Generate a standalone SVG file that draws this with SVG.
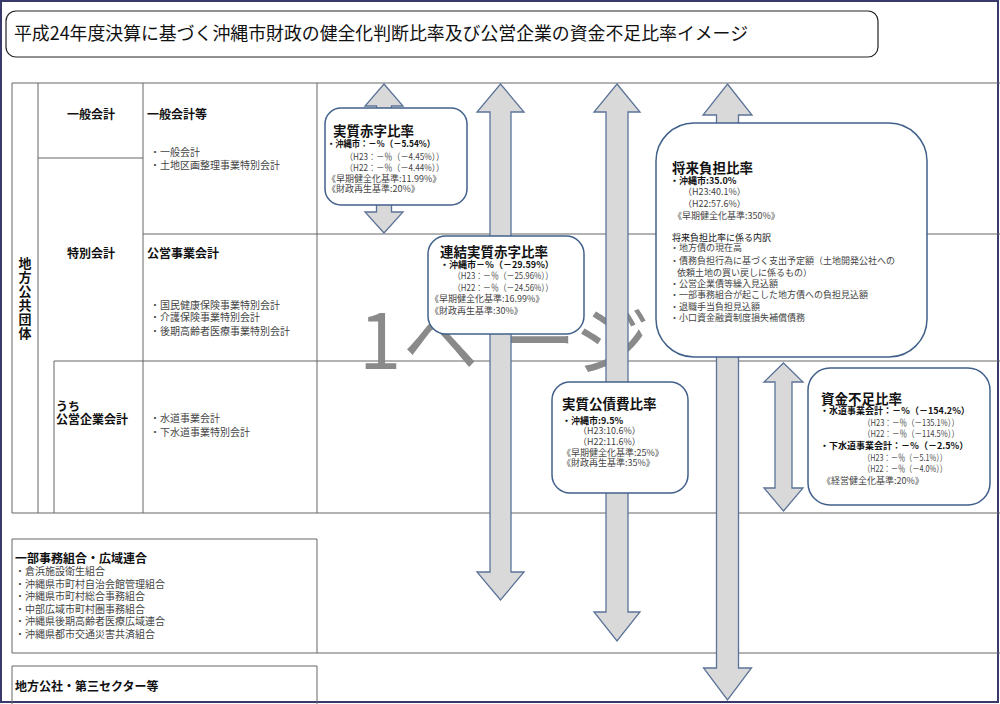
<svg xmlns="http://www.w3.org/2000/svg" width="1000" height="704" viewBox="0 0 1000 704">
<defs>
<style>
text{font-family:"Noto Sans CJK JP","Liberation Sans",sans-serif;}
.tl{stroke:#666;stroke-width:1;fill:none}
.hd{font-size:12px;font-weight:bold;fill:#111}
.li{font-size:10px;fill:#444}
.bx{fill:#fff;stroke:#41608a;stroke-width:1.5}
.ar{fill:#d9d9d9;stroke:#5b7398;stroke-width:1.3}
.bt{font-size:13.5px;font-weight:bold;fill:#111}
.bb{font-size:9px;font-weight:bold;fill:#111}
.bs{font-size:9px;fill:#444}
</style>
</defs>
<rect x="0" y="0" width="1000" height="704" fill="#fff"/>
<rect x="1" y="1" width="997" height="701" fill="none" stroke="#3a3a6a" stroke-width="2"/>

<g id="title">
<rect x="6" y="11" width="872" height="46" rx="10" fill="#fff" stroke="#222" stroke-width="1.2"/>
<text x="14" y="40" textLength="734" lengthAdjust="spacingAndGlyphs" style="font-size:18px;fill:#111">平成24年度決算に基づく沖縄市財政の健全化判断比率及び公営企業の資金不足比率イメージ</text>
</g>

<g id="table">
<path class="tl" d="M12 83H1000 M12 83V513 M38 83V513 M143 83V513 M317 83V513 M38 158H143 M143 234H1000 M54 361H1000 M54 361V513 M12 513H1000"/>
<path class="tl" d="M12 539H317V653H12Z M317 653H1000 M12 666H317 M12 666V704 M317 666V704"/>
<text class="hd" x="25" y="268" text-anchor="middle" style="font-size:13px">地</text>
<text class="hd" x="25" y="282" text-anchor="middle" style="font-size:13px">方</text>
<text class="hd" x="25" y="296" text-anchor="middle" style="font-size:13px">公</text>
<text class="hd" x="25" y="310" text-anchor="middle" style="font-size:13px">共</text>
<text class="hd" x="25" y="324" text-anchor="middle" style="font-size:13px">団</text>
<text class="hd" x="25" y="338" text-anchor="middle" style="font-size:13px">体</text>
<text class="hd" x="91" y="119" text-anchor="middle">一般会計</text>
<text class="hd" x="91" y="258" text-anchor="middle">特別会計</text>
<text class="hd" x="56" y="411">うち</text>
<text class="hd" x="56" y="424">公営企業会計</text>
<text class="hd" x="147" y="119">一般会計等</text>
<text class="li" x="150" y="156">・一般会計</text>
<text class="li" x="150" y="169">・土地区画整理事業特別会計</text>
<text class="hd" x="147" y="258">公営事業会計</text>
<text class="li" x="150" y="309">・国民健康保険事業特別会計</text>
<text class="li" x="150" y="321">・介護保険事業特別会計</text>
<text class="li" x="150" y="335">・後期高齢者医療事業特別会計</text>
<text class="li" x="150" y="422">・水道事業会計</text>
<text class="li" x="150" y="436">・下水道事業特別会計</text>
<text class="hd" x="15" y="563">一部事務組合・広域連合</text>
<text class="li" x="15" y="575">・倉浜施設衛生組合</text>
<text class="li" x="15" y="587.5">・沖縄県市町村自治会館管理組合</text>
<text class="li" x="15" y="600">・沖縄県市町村総合事務組合</text>
<text class="li" x="15" y="612.5">・中部広域市町村圏事務組合</text>
<text class="li" x="15" y="625">・沖縄県後期高齢者医療広域連合</text>
<text class="li" x="15" y="637.5">・沖縄県都市交通災害共済組合</text>
<text class="hd" x="15" y="691">地方公社・第三セクター等</text>
</g>

<text id="watermark" x="380 441 538 612" y="369" text-anchor="middle" style="font-size:76px;fill:#8a8a8a">1ページ</text>

<g id="connectors">
<polygon class="ar" points="384,84 403,106 391.5,106 391.5,212 403,212 384,233 365,212 376.5,212 376.5,106 365,106"/>
<polygon class="ar" points="500.5,84 524,112 511,112 511,572 524,572 500.5,600 477,572 490,572 490,112 477,112"/>
<polygon class="ar" points="617,84 640,112 628,112 628,612 640,612 617,641 594,612 606,612 606,112 594,112"/>
<polygon class="ar" points="727.5,84 752,115 738.5,115 738.5,668 751.5,668 727.5,700 703.5,668 716.5,668 716.5,115 703,115"/>
<polygon class="ar" points="783.5,363 803,382 792,382 792,488 803,488 783.5,511 764,488 775,488 775,382 764,382"/>
</g>

<g id="jisshitsu-akaji">
<rect class="bx" x="325" y="108" width="142" height="97" rx="16"/>
<text class="bt" x="333" y="136">実質赤字比率</text>
<text class="bb" x="327" y="147" textLength="108" lengthAdjust="spacingAndGlyphs">・沖縄市：－％（－5.54%）</text>
<text class="bs" x="345" y="160" textLength="99" lengthAdjust="spacingAndGlyphs">（H23：－％（－4.45%））</text>
<text class="bs" x="345" y="171" textLength="99" lengthAdjust="spacingAndGlyphs">（H22：－％（－4.44%））</text>
<text class="bs" x="327" y="182">《早期健全化基準:11.99%》</text>
<text class="bs" x="327" y="192">《財政再生基準:20%》</text>
</g>

<g id="renketsu">
<rect class="bx" x="428" y="236" width="156" height="98" rx="18"/>
<text class="bt" x="440" y="257">連結実質赤字比率</text>
<text class="bb" x="440" y="268">・沖縄市－％（－29.59%）</text>
<text class="bs" x="453" y="279" textLength="100" lengthAdjust="spacingAndGlyphs">（H23：－％（－25.96%））</text>
<text class="bs" x="453" y="291" textLength="100" lengthAdjust="spacingAndGlyphs">（H22：－％（－24.56%））</text>
<text class="bs" x="430" y="302">《早期健全化基準:16.99%》</text>
<text class="bs" x="430" y="314">《財政再生基準:30%》</text>
</g>

<g id="shorai">
<rect class="bx" x="656" y="123" width="271" height="234" rx="38"/>
<text class="bt" x="672" y="173">将来負担比率</text>
<text class="bb" x="670" y="184">・沖縄市:35.0%</text>
<text class="bs" x="683" y="195">（H23:40.1%）</text>
<text class="bs" x="683" y="207">（H22:57.6%）</text>
<text class="bs" x="673" y="219">《早期健全化基準:350%》</text>
<text class="bs" x="672" y="241" style="fill:#111">将来負担比率に係る内訳</text>
<text class="bs" x="670" y="251">・地方債の現在高</text>
<text class="bs" x="670" y="264">・債務負担行為に基づく支出予定額（土地開発公社への</text>
<text class="bs" x="677" y="276">依頼土地の買い戻しに係るもの）</text>
<text class="bs" x="670" y="287">・公営企業債等繰入見込額</text>
<text class="bs" x="670" y="298">・一部事務組合が起こした地方債への負担見込額</text>
<text class="bs" x="670" y="310">・退職手当負担見込額</text>
<text class="bs" x="670" y="321">・小口資金融資制度損失補償債務</text>
</g>

<g id="kousaihi">
<rect class="bx" x="552" y="382" width="136" height="111" rx="18"/>
<text class="bt" x="562" y="409">実質公債費比率</text>
<text class="bb" x="562" y="424">・沖縄市:9.5%</text>
<text class="bs" x="578" y="434">（H23:10.6%）</text>
<text class="bs" x="578" y="445">（H22:11.6%）</text>
<text class="bs" x="562" y="456">《早期健全化基準:25%》</text>
<text class="bs" x="562" y="466">《財政再生基準:35%》</text>
</g>

<g id="shikin">
<rect class="bx" x="808" y="368" width="182" height="137" rx="22"/>
<text class="bt" x="821" y="404">資金不足比率</text>
<text class="bb" x="820" y="414">・水道事業会計：－％（－154.2%）</text>
<text class="bs" x="863" y="426" textLength="96" lengthAdjust="spacingAndGlyphs">（H23：－％（－135.1%））</text>
<text class="bs" x="863" y="437" textLength="96" lengthAdjust="spacingAndGlyphs">（H22：－％（－114.5%））</text>
<text class="bb" x="820" y="449">・下水道事業会計：－％（－2.5%）</text>
<text class="bs" x="863" y="461" textLength="84" lengthAdjust="spacingAndGlyphs">（H23：－％（－5.1%））</text>
<text class="bs" x="863" y="472" textLength="84" lengthAdjust="spacingAndGlyphs">（H22：－％（－4.0%））</text>
<text class="bs" x="822" y="484">《経営健全化基準:20%》</text>
</g>
</svg>
